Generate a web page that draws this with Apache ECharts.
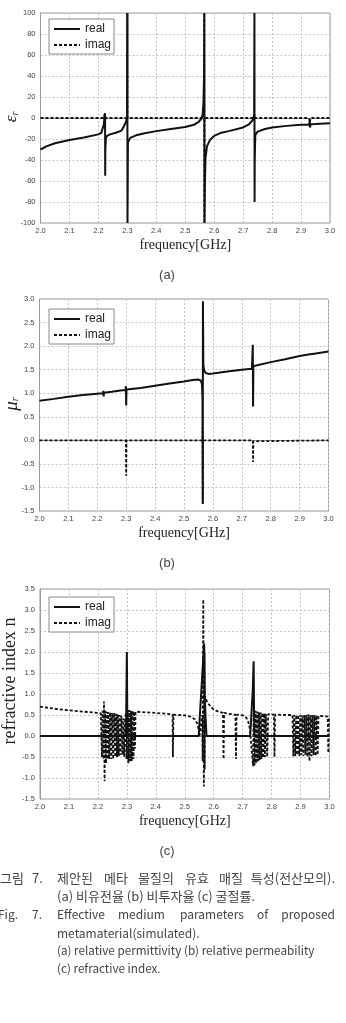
<!DOCTYPE html>
<html><head><meta charset="utf-8">
<script src="https://cdn.jsdelivr.net/npm/echarts@6/dist/echarts.min.js"></script>
<style>html,body{margin:0;padding:0;background:#fff;}#c{width:346px;height:1023px;}</style>
</head><body><div id="c"></div>
<script>
// ---------- data (frequency in GHz, value) ----------
const legendNames = ['real', 'imag'];
const xTicks = {min: 2.0, max: 3.0, step: 0.1};

const epsReal = [[2.000,-30],[2.020,-27],[2.050,-24],[2.100,-21],[2.150,-18.5],[2.200,-15.6],[2.210,-14.2],[2.215,-12.5],[2.219,-6],[2.221,2],[2.223,4.5],[2.2235,-55],[2.224,-30],[2.226,-19],[2.230,-17],[2.240,-15.6],[2.260,-14],[2.280,-12],[2.290,-7],[2.296,-3],[2.299,1],[2.300,100],[2.3005,-100],[2.302,-23],[2.310,-19],[2.330,-16.5],[2.360,-14.5],[2.400,-12.5],[2.450,-10.5],[2.500,-8.5],[2.530,-6.5],[2.545,-4],[2.555,-1],[2.560,3],[2.563,15],[2.565,40],[2.566,100],[2.5665,-100],[2.568,-60],[2.570,-38],[2.575,-27],[2.585,-21],[2.600,-17],[2.625,-14],[2.650,-12.5],[2.700,-9],[2.720,-6],[2.730,-3],[2.735,-1],[2.738,3],[2.739,100],[2.7395,-80],[2.740,-40],[2.742,-16],[2.750,-13],[2.775,-10.5],[2.800,-9],[2.850,-7.5],[2.900,-6.5],[2.928,-6.2],[2.930,-3],[2.931,-9],[2.933,-6],[2.950,-5.8],[3.000,-5]];
const epsImag = [[2.000,0],[2.220,0],[2.222,4],[2.224,-2],[2.226,0],[2.2995,0],[2.300,100],[2.3005,0],[2.565,0],[2.5655,100],[2.566,-100],[2.5665,0],[2.739,0],[2.7393,3],[2.740,0],[2.928,0],[2.930,-9],[2.932,0],[3.000,0]];

const muReal = [[2.000,0.84],[2.050,0.88],[2.100,0.925],[2.150,0.96],[2.200,0.99],[2.220,1.00],[2.221,1.05],[2.222,0.93],[2.223,1.01],[2.250,1.03],[2.280,1.06],[2.298,1.07],[2.299,1.15],[2.300,0.74],[2.301,1.08],[2.350,1.11],[2.400,1.16],[2.450,1.205],[2.500,1.25],[2.530,1.28],[2.550,1.29],[2.558,1.27],[2.562,1.2],[2.564,0.9],[2.565,-1.35],[2.5655,2.95],[2.567,1.6],[2.570,1.48],[2.575,1.43],[2.585,1.41],[2.600,1.42],[2.650,1.46],[2.700,1.50],[2.735,1.52],[2.738,2.03],[2.739,0.72],[2.740,1.58],[2.750,1.59],[2.800,1.66],[2.850,1.72],[2.900,1.79],[2.930,1.82],[2.950,1.84],[3.000,1.885]];
const muImag = [[2.000,0],[2.220,0],[2.222,0.03],[2.224,0],[2.299,0],[2.300,-0.75],[2.301,0],[2.564,0],[2.5645,0.28],[2.565,-1.33],[2.5655,0],[2.738,0],[2.739,-0.46],[2.740,-0.02],[2.745,0],[3.000,0]];

const nReal = [[2.000,0],[2.220,0],[2.222,0.05],[2.224,0],[2.297,0],[2.300,2.0],[2.302,0],[2.548,0],[2.567,2.2],[2.569,0.95],[2.571,0.6],[2.575,0],[2.726,0],[2.735,1.1],[2.738,1.78],[2.740,0],[2.930,0],[2.931,0.05],[2.932,0],[3.000,0]];
const nImag = [[2.000,0.70],[2.050,0.65],[2.100,0.61],[2.150,0.58],[2.200,0.55],[2.210,0.54],
[2.212,0.52],[2.214,-0.50],[2.216,0.60],[2.219,-0.55],[2.221,0.82],[2.223,-1.08],[2.225,0.60],[2.228,-0.65],[2.230,0.58],[2.233,-0.55],[2.235,0.57],[2.239,-0.55],[2.242,0.56],[2.246,-0.55],[2.249,0.55],[2.253,-0.55],[2.256,0.55],
[2.258,0.54],[2.260,-0.50],[2.263,0.53],[2.266,-0.50],[2.269,0.52],[2.272,-0.48],[2.275,0.50],[2.278,-0.45],[2.281,0.48],[2.285,-0.45],[2.288,0.42],[2.291,-0.50],[2.294,0.40],
[2.297,0.55],[2.299,-0.55],[2.302,0.62],[2.305,-0.65],[2.308,0.62],[2.311,-0.60],[2.314,0.60],[2.317,-0.60],[2.320,0.60],[2.323,-0.55],[2.326,0.58],[2.328,-0.30],[2.330,0.58],
[2.350,0.57],[2.400,0.55],[2.450,0.52],[2.458,0.51],[2.459,-0.50],[2.461,0.51],[2.500,0.49],[2.520,0.46],[2.535,0.40],[2.543,0.30],[2.548,0.15],[2.551,0.0],[2.556,0.0],
[2.560,0.5],[2.562,-0.6],[2.564,3.25],[2.566,-1.2],[2.568,2.0],[2.569,-0.8],[2.570,0.95],
[2.575,0.85],[2.580,0.78],[2.590,0.70],[2.600,0.63],[2.620,0.57],[2.632,0.55],[2.634,-0.55],[2.636,0.55],[2.650,0.53],[2.675,0.51],[2.677,-0.55],[2.679,0.51],[2.700,0.49],[2.710,0.46],[2.718,0.38],[2.724,0.2],[2.727,0.0],[2.733,0.0],
[2.736,-0.72],[2.738,0.62],[2.741,-0.70],[2.744,0.60],[2.747,-0.65],[2.750,0.58],[2.753,-0.60],[2.756,0.57],[2.759,-0.58],[2.762,0.56],[2.765,-0.55],[2.768,0.55],[2.771,-0.52],[2.774,0.54],[2.777,-0.50],[2.780,0.53],[2.785,-0.50],[2.788,0.52],[2.790,0.52],[2.808,0.51],[2.810,-0.50],[2.812,0.51],
[2.850,0.50],[2.872,0.50],[2.875,-0.48],[2.878,0.50],[2.882,-0.48],[2.885,0.50],[2.889,-0.45],[2.892,0.50],[2.896,-0.48],[2.899,0.50],[2.903,-0.45],[2.906,0.49],[2.910,-0.48],[2.913,0.50],[2.917,-0.45],[2.920,0.50],[2.924,-0.50],[2.927,0.52],[2.931,-0.60],[2.934,0.50],[2.938,-0.48],[2.941,0.50],[2.945,-0.45],[2.948,0.50],[2.952,-0.48],[2.955,0.49],[2.959,-0.45],[2.962,0.48],
[2.980,0.47],[2.994,0.46],[2.996,-0.40],[2.998,0.45],[3.000,0.45]];

const yRanges = [
  {min: -100, max: 100, step: 20, dec: 0},
  {min: -1.5, max: 3.0, step: 0.5, dec: 1},
  {min: -1.5, max: 3.5, step: 0.5, dec: 1}
];
const subLabels = ['(a)', '(b)', '(c)'];
const xName = 'frequency[GHz]';
// [text, x, align]
const captionLines = [
  [['그림',0,'left'],['7.',32,'left'],['제안된',57,'left'],['메타',104,'left'],['물질의',138,'left'],['유효',185,'left'],['매질',219,'left'],['특성(전산모의).',335,'right']],
  [['(a) 비유전율 (b) 비투자율 (c) 굴절률.',57,'left']],
  [['Fig.',-2,'left'],['7.',32,'left'],['Effective',57,'left'],['medium',118,'left'],['parameters',180,'left'],['of',257,'left'],['proposed',335,'right']],
  [['metamaterial(simulated).',57,'left']],
  [['(a) relative permittivity (b) relative permeability',57,'left']],
  [['(c) refractive index.',57,'left']]
];
const captionFontSize = [13, 13, 12, 12, 11.7, 11.7];

// ---------- layout ----------
const grids = [
  {left: 40.5, top: 13, width: 289.5, height: 210},
  {left: 39.5, top: 299, width: 289, height: 212},
  {left: 40, top: 589, width: 289.5, height: 210}
];
const legendPos = [{left: 49, top: 19}, {left: 49, top: 309}, {left: 49, top: 597}];
const subLabelY = [275, 563, 851];
const captionY = [878, 896, 914, 933, 951, 969];

const chart = echarts.init(document.getElementById('c'), null, {renderer: 'canvas'});
const gridLine = {show: true, lineStyle: {color: '#c4c4c4', type: [2, 2], width: 1}};
const axLine = {show: true, lineStyle: {color: '#9a9a9a', width: 1}};
const labelStyle = {fontSize: 7.5, color: '#444', fontFamily: 'Liberation Sans'};

const xAxis = grids.map((g, i) => ({
  type: 'value', gridIndex: i, min: xTicks.min, max: xTicks.max, interval: xTicks.step,
  axisLine: axLine, axisTick: {show: false}, splitLine: gridLine,
  axisLabel: Object.assign({margin: 4, formatter: v => v.toFixed(1)}, labelStyle),
  name: xName, nameLocation: 'middle', nameGap: 15,
  nameTextStyle: {fontFamily: 'Liberation Serif', fontSize: 14, color: '#222'}
}));
const yAxis = yRanges.map((r, i) => ({
  type: 'value', gridIndex: i, min: r.min, max: r.max, interval: r.step,
  axisLine: axLine, axisTick: {show: false}, splitLine: gridLine,
  axisLabel: Object.assign({margin: 5, formatter: v => v.toFixed(r.dec)}, labelStyle)
}));

function mk(name, data, i, dashed) {
  return {
    name, type: 'line', xAxisIndex: i, yAxisIndex: i, data,
    symbol: 'none', showSymbol: false, animation: false, clip: true,
    color: '#111', itemStyle: {color: '#111'},
    lineStyle: {color: '#111', width: dashed ? 1.8 : 2, type: dashed ? [3, 2] : 'solid'}
  };
}
const series = [
  mk('real', epsReal, 0, false), mk('imag', epsImag, 0, true),
  mk('real', muReal, 1, false), mk('imag', muImag, 1, true),
  mk('real', nReal, 2, false), mk('imag', nImag, 2, true)
];

const legend = legendPos.map(p => ({
  left: p.left, top: p.top, orient: 'vertical', data: legendNames, selectedMode: false,
  itemWidth: 26, itemHeight: 10, itemGap: 4, padding: [4, 3, 3, 4],
  itemStyle: {opacity: 0},
  borderColor: '#888', borderWidth: 1, backgroundColor: '#fff',
  textStyle: {fontSize: 12, fontFamily: 'Liberation Sans', color: '#222'}
}));

const graphic = [];
graphic.push({type: 'text', x: 12, y: 117, rotation: Math.PI / 2,
  style: {text: '{e|ε}{s|r}', align: 'center', verticalAlign: 'middle', fill: '#222',
    rich: {e: {fontFamily: 'Liberation Serif', fontStyle: 'italic', fontSize: 17},
           s: {fontFamily: 'Liberation Serif', fontStyle: 'italic', fontSize: 10, padding: [6, 0, 0, 0]}}}});
graphic.push({type: 'text', x: 12, y: 404, rotation: Math.PI / 2,
  style: {text: '{e|μ}{s|r}', align: 'center', verticalAlign: 'middle', fill: '#222',
    rich: {e: {fontFamily: 'Liberation Serif', fontStyle: 'italic', fontSize: 19},
           s: {fontFamily: 'Liberation Serif', fontStyle: 'italic', fontSize: 10, padding: [7, 0, 0, 0]}}}});
graphic.push({type: 'text', x: 10, y: 681, rotation: Math.PI / 2,
  style: {text: 'refractive index n', align: 'center', verticalAlign: 'middle', fill: '#222',
    font: '18px "Liberation Serif"'}});
subLabels.forEach((t, i) => graphic.push({type: 'text', x: 167, y: subLabelY[i],
  style: {text: t, align: 'center', verticalAlign: 'middle', fill: '#444', font: '13px "Liberation Sans Narrow", "Liberation Sans"'}}));
captionLines.forEach((line, li) => line.forEach(([t, x, al]) => graphic.push({type: 'text', x, y: captionY[li],
  style: {text: t, align: al, verticalAlign: 'middle', fill: '#444',
    font: captionFontSize[li] + 'px "Liberation Sans Narrow", "Noto Sans CJK KR"'}})));

chart.setOption({
  backgroundColor: '#fff', animation: false,
  grid: grids.map(g => Object.assign({show: true, borderColor: '#9a9a9a', borderWidth: 1, containLabel: false}, g)),
  xAxis, yAxis, legend, series, graphic
});
</script></body></html>
